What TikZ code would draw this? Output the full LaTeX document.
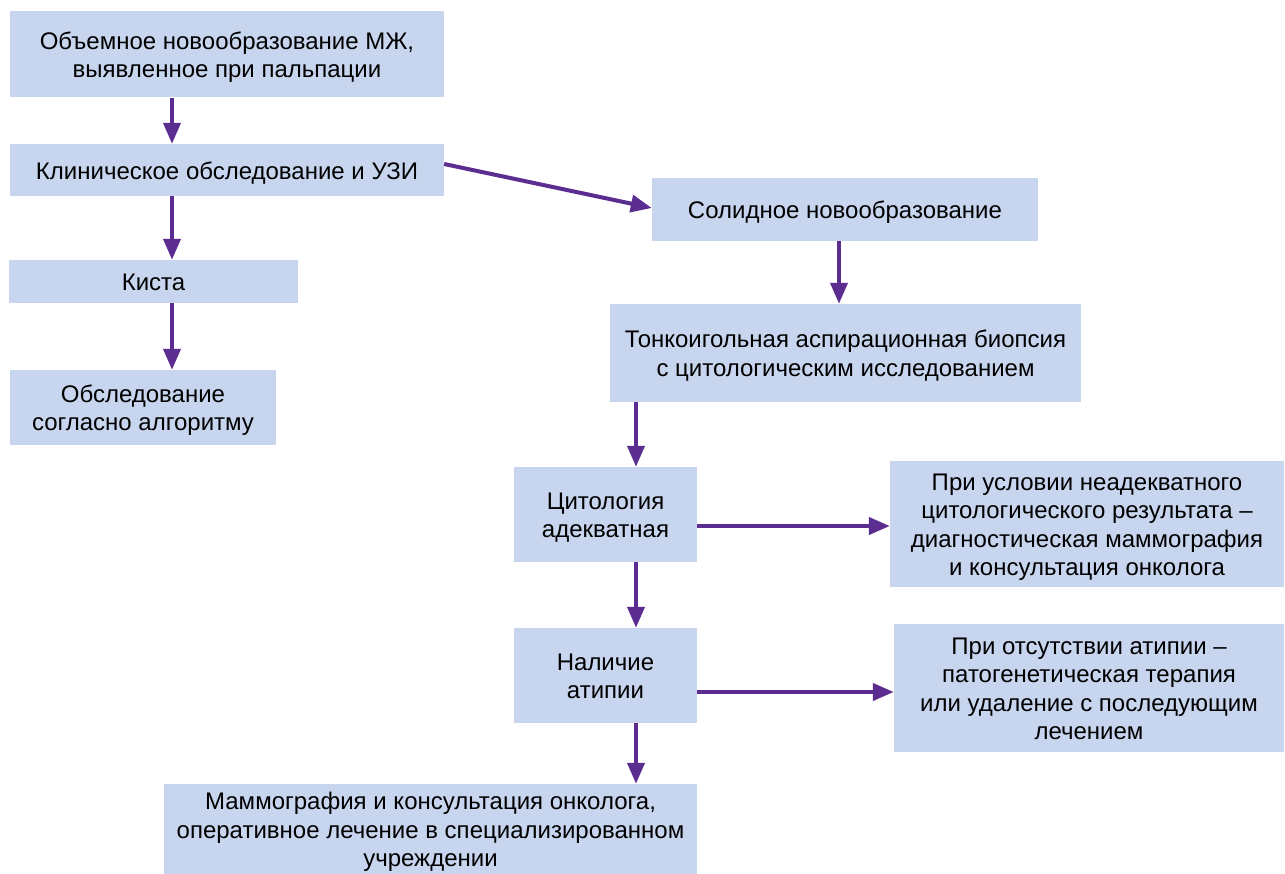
\documentclass[tikz,border=0pt]{standalone}
\usepackage{fontspec}
\setmainfont{Liberation Sans}
\usetikzlibrary{arrows.meta,calc}
\definecolor{boxfill}{HTML}{C7D5EE}
\definecolor{arrcol}{HTML}{5B2D91}
\newcommand\bs{\rule[-4.7pt]{0pt}{27.7pt}}
\begin{document}
\begin{tikzpicture}[x=1pt,y=-1pt,
  box/.style={rectangle,fill=boxfill,inner sep=0pt,align=center,
    font=\fontsize{24}{28.5}\selectfont},
  arr/.style={draw=arrcol,line width=4pt,-{Triangle[length=21pt,width=17pt]}}]
\useasboundingbox[fill=white] (0,0) rectangle (1285,874);
\node[box,minimum width=434,minimum height=86] (A) at (227,54.5) {\bs Объемное новообразование МЖ,\\выявленное при пальпации\bs};
\node[box,minimum width=434,minimum height=52] (B) at (227,170) {\bs Клиническое обследование и УЗИ\bs};
\node[box,minimum width=289,minimum height=43] (C) at (153.5,281.5) {\bs Киста\bs};
\node[box,minimum width=266,minimum height=75] (D) at (143,407.5) {\bs Обследование\\согласно алгоритму\bs};
\node[box,minimum width=386,minimum height=63] (E) at (845,209.5) {\bs Солидное новообразование\bs};
\node[box,minimum width=471,minimum height=98] (F) at (845.5,353) {\bs Тонкоигольная аспирационная биопсия\\с цитологическим исследованием\bs};
\node[box,minimum width=183,minimum height=95] (G) at (605.5,514.5) {\bs Цитология\\адекватная\bs};
\node[box,minimum width=394,minimum height=126] (H) at (1087,524) {\bs При условии неадекватного\\цитологического результата –\\диагностическая маммография\\и консультация онколога\bs};
\node[box,minimum width=183,minimum height=95] (I) at (605.5,675.5) {\bs Наличие\\атипии\bs};
\node[box,minimum width=390,minimum height=128] (J) at (1089,688) {\bs При отсутствии атипии –\\патогенетическая терапия\\или удаление с последующим\\лечением\bs};
\node[box,minimum width=533,minimum height=90] (K) at (430.5,829) {\bs Маммография и консультация онколога,\\оперативное лечение в специализированном\\учреждении\bs};
\draw[arr] ([xshift=-55pt]A.south) -- ([xshift=-55pt]B.north);
\draw[arr] ([xshift=-55pt]B.south) -- ([xshift=18.5pt]C.north);
\draw[arr] ([xshift=18.5pt]C.south) -- ([xshift=29pt]D.north);
\draw[arr] ([yshift=6pt]B.east) -- ([yshift=1.5pt]E.west);
\draw[arr] ([xshift=-6pt]E.south) -- ([xshift=-6.5pt]F.north);
\draw[arr] ([xshift=-209.5pt]F.south) -- ([xshift=30.5pt]G.north);
\draw[arr] ([yshift=-11.5pt]G.east) -- ([yshift=-2pt]H.west);
\draw[arr] ([xshift=30.5pt]G.south) -- ([xshift=30.5pt]I.north);
\draw[arr] ([yshift=-16.5pt]I.east) -- ([yshift=-4pt]J.west);
\draw[arr] ([xshift=30.5pt]I.south) -- ([xshift=205.5pt]K.north);
\end{tikzpicture}
\end{document}
